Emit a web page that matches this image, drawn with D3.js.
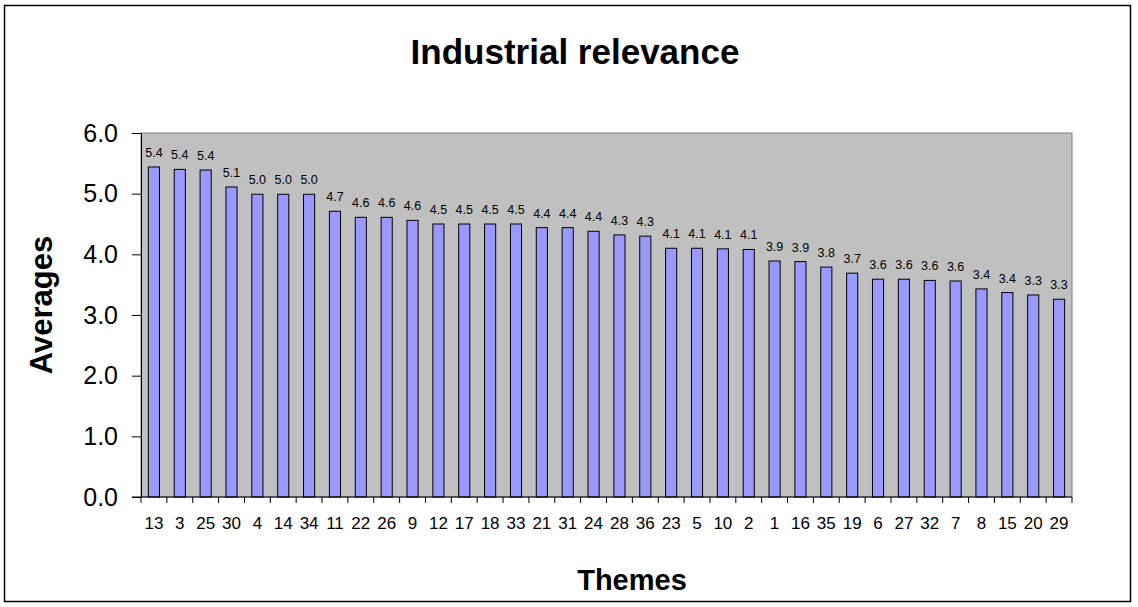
<!DOCTYPE html>
<html>
<head>
<meta charset="utf-8">
<script src="https://cdn.jsdelivr.net/npm/d3@7"></script>
<style>
  html, body { margin: 0; padding: 0; background: #fff; }
  svg { display: block; font-family: "Liberation Sans", Arial, sans-serif; }
</style>
</head>
<body>
<svg id="chart" width="1138" height="607"></svg>
<script>
const themes = ["13","3","25","30","4","14","34","11","22","26","9","12","17","18","33","21","31","24","28","36","23","5","10","2","1","16","35","19","6","27","32","7","8","15","20","29"];
const averages = [5.44,5.40,5.39,5.11,4.99,4.99,4.99,4.71,4.61,4.61,4.56,4.50,4.50,4.50,4.50,4.44,4.44,4.38,4.32,4.30,4.10,4.10,4.09,4.08,3.89,3.88,3.79,3.69,3.59,3.59,3.57,3.56,3.43,3.37,3.33,3.26];
const yTicks = [0,1,2,3,4,5,6];
const titleText = "Industrial relevance";
const xTitle = "Themes";
const yTitle = "Averages";

const svg = d3.select("#chart");
const plot = {left: 141, right: 1072, top: 133, bottom: 497};

// outer border
svg.append("rect").attr("x", 4.5).attr("y", 5.5).attr("width", 1126).attr("height", 596)
  .attr("fill", "#fff").attr("stroke", "#000").attr("stroke-width", 1.5);

const x = d3.scaleBand().domain(themes).range([plot.left, plot.right]).paddingInner(0).paddingOuter(0);
const y = d3.scaleLinear().domain([0, 6]).range([plot.bottom, plot.top]);

// plot background
svg.append("rect").attr("x", plot.left).attr("y", plot.top)
  .attr("width", plot.right - plot.left).attr("height", plot.bottom - plot.top)
  .attr("fill", "#C0C0C0").attr("stroke", "#808080").attr("stroke-width", 1);

// bars
const bw = x.bandwidth() * 0.43;
svg.append("g").selectAll("rect").data(themes).join("rect")
  .attr("x", (d) => x(d) + (x.bandwidth() - bw) / 2)
  .attr("y", (d, i) => y(averages[i]))
  .attr("width", bw)
  .attr("height", (d, i) => y(0) - y(averages[i]))
  .attr("fill", "#9999FF").attr("stroke", "#000").attr("stroke-width", 1);

// data labels
svg.append("g").selectAll("text").data(themes).join("text")
  .attr("x", (d) => x(d) + x.bandwidth() / 2)
  .attr("y", (d, i) => y(averages[i]) - 10)
  .attr("text-anchor", "middle")
  .attr("font-size", 12.5).attr("fill", "#000")
  .text((d, i) => d3.format(".1f")(averages[i]));

// y axis
const yAxis = d3.axisLeft(y).tickValues(yTicks).tickFormat(d3.format(".1f")).tickSizeOuter(0).tickSizeInner(9).tickPadding(14);
const gy = svg.append("g").attr("transform", `translate(${plot.left},0)`).call(yAxis);
gy.select(".domain").attr("stroke", "#000");
gy.selectAll(".tick line").attr("stroke", "#000");
gy.selectAll(".tick text").attr("font-size", 25).attr("fill", "#000").attr("font-family", "Liberation Sans, Arial, sans-serif");

// x axis with ticks at band boundaries
const gx = svg.append("g").attr("transform", `translate(0,${plot.bottom})`);
gx.append("line").attr("x1", plot.left - 9).attr("x2", plot.right).attr("y1", 0).attr("y2", 0).attr("stroke", "#000");
const bounds = themes.map(d => x(d)).concat([plot.right]);
gx.selectAll("line.tk").data(bounds).join("line").attr("class", "tk")
  .attr("x1", d => d).attr("x2", d => d).attr("y1", 0).attr("y2", 6).attr("stroke", "#000");
gx.selectAll("text").data(themes).join("text")
  .attr("x", d => x(d) + x.bandwidth() / 2)
  .attr("y", 32)
  .attr("text-anchor", "middle")
  .attr("font-size", 17).attr("fill", "#000")
  .text(d => d);

// titles
svg.append("text").attr("x", 575).attr("y", 64).attr("text-anchor", "middle")
  .attr("font-size", 35).attr("font-weight", "bold").text(titleText);
svg.append("text").attr("x", 632).attr("y", 590).attr("text-anchor", "middle")
  .attr("font-size", 29).attr("font-weight", "bold").text(xTitle);
svg.append("text").attr("transform", `translate(52,305) rotate(-90)`)
  .attr("text-anchor", "middle")
  .attr("font-size", 31).attr("font-weight", "bold").text(yTitle);
</script>
</body>
</html>
